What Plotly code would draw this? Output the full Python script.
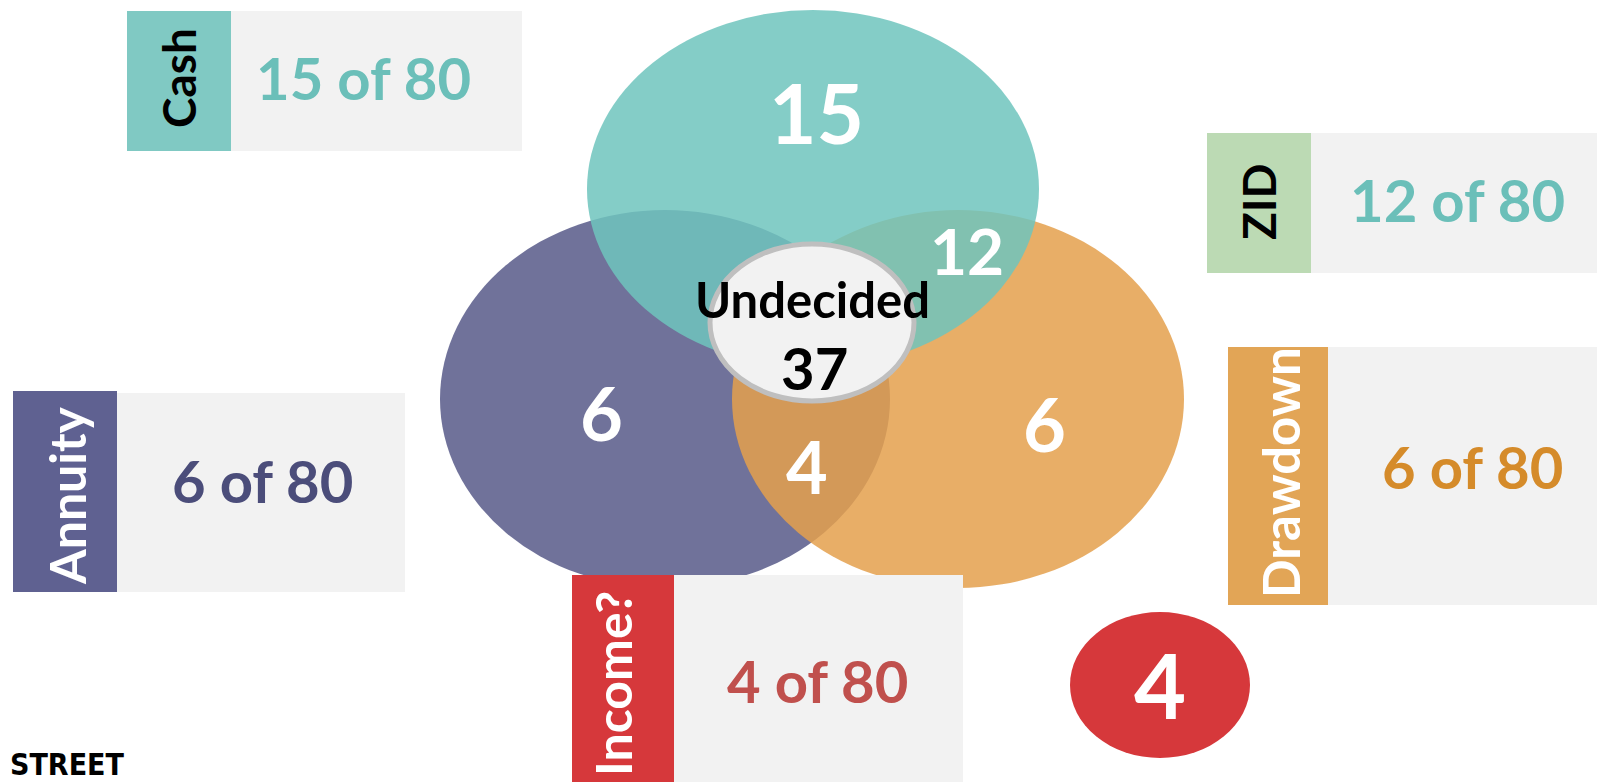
import plotly.graph_objects as go

# ---------------- data ----------------
categories = ["Cash", "ZID", "Annuity", "Drawdown", "Income?"]
counts = [15, 12, 6, 6, 4]
total = 80
undecided_label = "Undecided"
undecided_count = 37
venn_region_values = [15, 12, 6, 6, 4]   # cash-only, cash&drawdown, annuity-only, drawdown-only, annuity&drawdown
income_circle_value = 4

# ---------------- layout constants (pixels) ----------------
W, H = 1605, 782
PAGE_MARGIN = 8          # default body margin of the html page
FONT = "Lato"

strip_colors = {"Cash": "#80c9c3", "ZID": "#bcdab4", "Annuity": "#5f6191",
                "Drawdown": "#e2a556", "Income?": "#d6383b"}
strip_text_colors = {"Cash": "black", "ZID": "black", "Annuity": "white",
                     "Drawdown": "white", "Income?": "white"}
value_colors = {"Cash": "#6bbfb9", "ZID": "#6bbfb9", "Annuity": "#4b4d7a",
                "Drawdown": "#d58b2a", "Income?": "#c0504d"}
boxes = {
    "Cash":     dict(sx0=127, sx1=231, y0=11, y1=151, gx1=522, gy0=11, tx=363, ty=77, lx=178, ly=78, ls=46),
    "ZID":      dict(sx0=1207, sx1=1311, y0=133, y1=273, gx1=1601, gy0=133, tx=1457, ty=199, lx=1258, ly=202, ls=46),
    "Annuity":  dict(sx0=13, sx1=117, y0=391, y1=592, gx1=405, gy0=393, tx=262, ty=480, lx=67, ly=496, ls=50),
    "Drawdown": dict(sx0=1228, sx1=1328, y0=347, y1=605, gx1=1605, gy0=347, tx=1472, ty=466, lx=1280, ly=473, ls=51),
    "Income?":  dict(sx0=572, sx1=674, y0=575, y1=800, gx1=963, gy0=575, tx=817, ty=680, lx=613, ly=684, ls=50),
}

# ellipses: cx, cy, rx, ry, colour (drawing order: purple, orange, teal)
ellipses = [
    (665, 399, 225, 189, "rgba(92,94,140,0.88)"),
    (958, 399, 226, 189, "rgba(228,160,76,0.85)"),
    (813, 189, 226, 179, "rgba(110,196,189,0.85)"),
]
region_pos = [(816, 112, 82), (967, 250, 64), (601, 412, 74), (1044, 423, 74), (807, 466, 72)]

fig = go.Figure()
fig.add_trace(go.Scatter(x=[PAGE_MARGIN, W], y=[PAGE_MARGIN, H], mode="markers",
                         marker=dict(opacity=0), hoverinfo="skip", showlegend=False))

shapes = []
annotations = []

# venn ellipses
for cx, cy, rx, ry, col in ellipses:
    shapes.append(dict(type="circle", x0=cx - rx, x1=cx + rx, y0=cy - ry, y1=cy + ry,
                       fillcolor=col, line=dict(width=0), layer="above"))

# undecided ellipse
shapes.append(dict(type="circle", x0=710, x1=914, y0=244, y1=401,
                   fillcolor="#f2f2f2", line=dict(color="#bfbfbf", width=5), layer="above"))

# income red circle
shapes.append(dict(type="circle", x0=1070, x1=1250, y0=612, y1=758,
                   fillcolor="#d6383b", line=dict(width=0), layer="above"))

# label boxes (drawn over the ellipses)
for cat, n in zip(categories, counts):
    b = boxes[cat]
    shapes.append(dict(type="rect", x0=b["sx1"], x1=b["gx1"], y0=b["gy0"], y1=b["y1"],
                       fillcolor="#f2f2f2", line=dict(width=0), layer="above"))
    shapes.append(dict(type="rect", x0=b["sx0"], x1=b["sx1"], y0=b["y0"], y1=b["y1"],
                       fillcolor=strip_colors[cat], line=dict(width=0), layer="above"))
    annotations.append(dict(x=b["lx"], y=b["ly"], text=f"<b>{cat}</b>", textangle=-90,
                            showarrow=False, font=dict(family=FONT, size=b["ls"],
                                                       color=strip_text_colors[cat])))
    annotations.append(dict(x=b["tx"], y=b["ty"], text=f"<b>{n} of {total}</b>",
                            showarrow=False, font=dict(family=FONT, size=58,
                                                       color=value_colors[cat])))

for v, (x, y, s) in zip(venn_region_values, region_pos):
    annotations.append(dict(x=x, y=y, text=f"<b>{v}</b>", showarrow=False,
                            font=dict(family=FONT, size=s, color="white")))

annotations.append(dict(x=812, y=299, text=f"<b>{undecided_label}</b>", showarrow=False,
                        font=dict(family=FONT, size=49, color="black")))
annotations.append(dict(x=814, y=367, text=f"<b>{undecided_count}</b>", showarrow=False,
                        font=dict(family=FONT, size=58, color="black")))
annotations.append(dict(x=1160, y=684, text=f"<b>{income_circle_value}</b>", showarrow=False,
                        font=dict(family=FONT, size=90, color="white")))

# logo fragment bottom-left
annotations.append(dict(x=9, y=H, xshift=-1, text="<b>STREET</b>", showarrow=False,
                        xanchor="left", yanchor="bottom", yshift=-2,
                        font=dict(family="DejaVu Sans Condensed", size=30, color="black")))

fig.update_layout(
    width=W - PAGE_MARGIN, height=H - PAGE_MARGIN, margin=dict(l=0, r=0, t=0, b=0),
    paper_bgcolor="white", plot_bgcolor="white",
    xaxis=dict(range=[PAGE_MARGIN, W], visible=False, fixedrange=True),
    yaxis=dict(range=[H, PAGE_MARGIN], visible=False, fixedrange=True),
    shapes=shapes, annotations=annotations, showlegend=False,
)

fig.write_html("out.html")
